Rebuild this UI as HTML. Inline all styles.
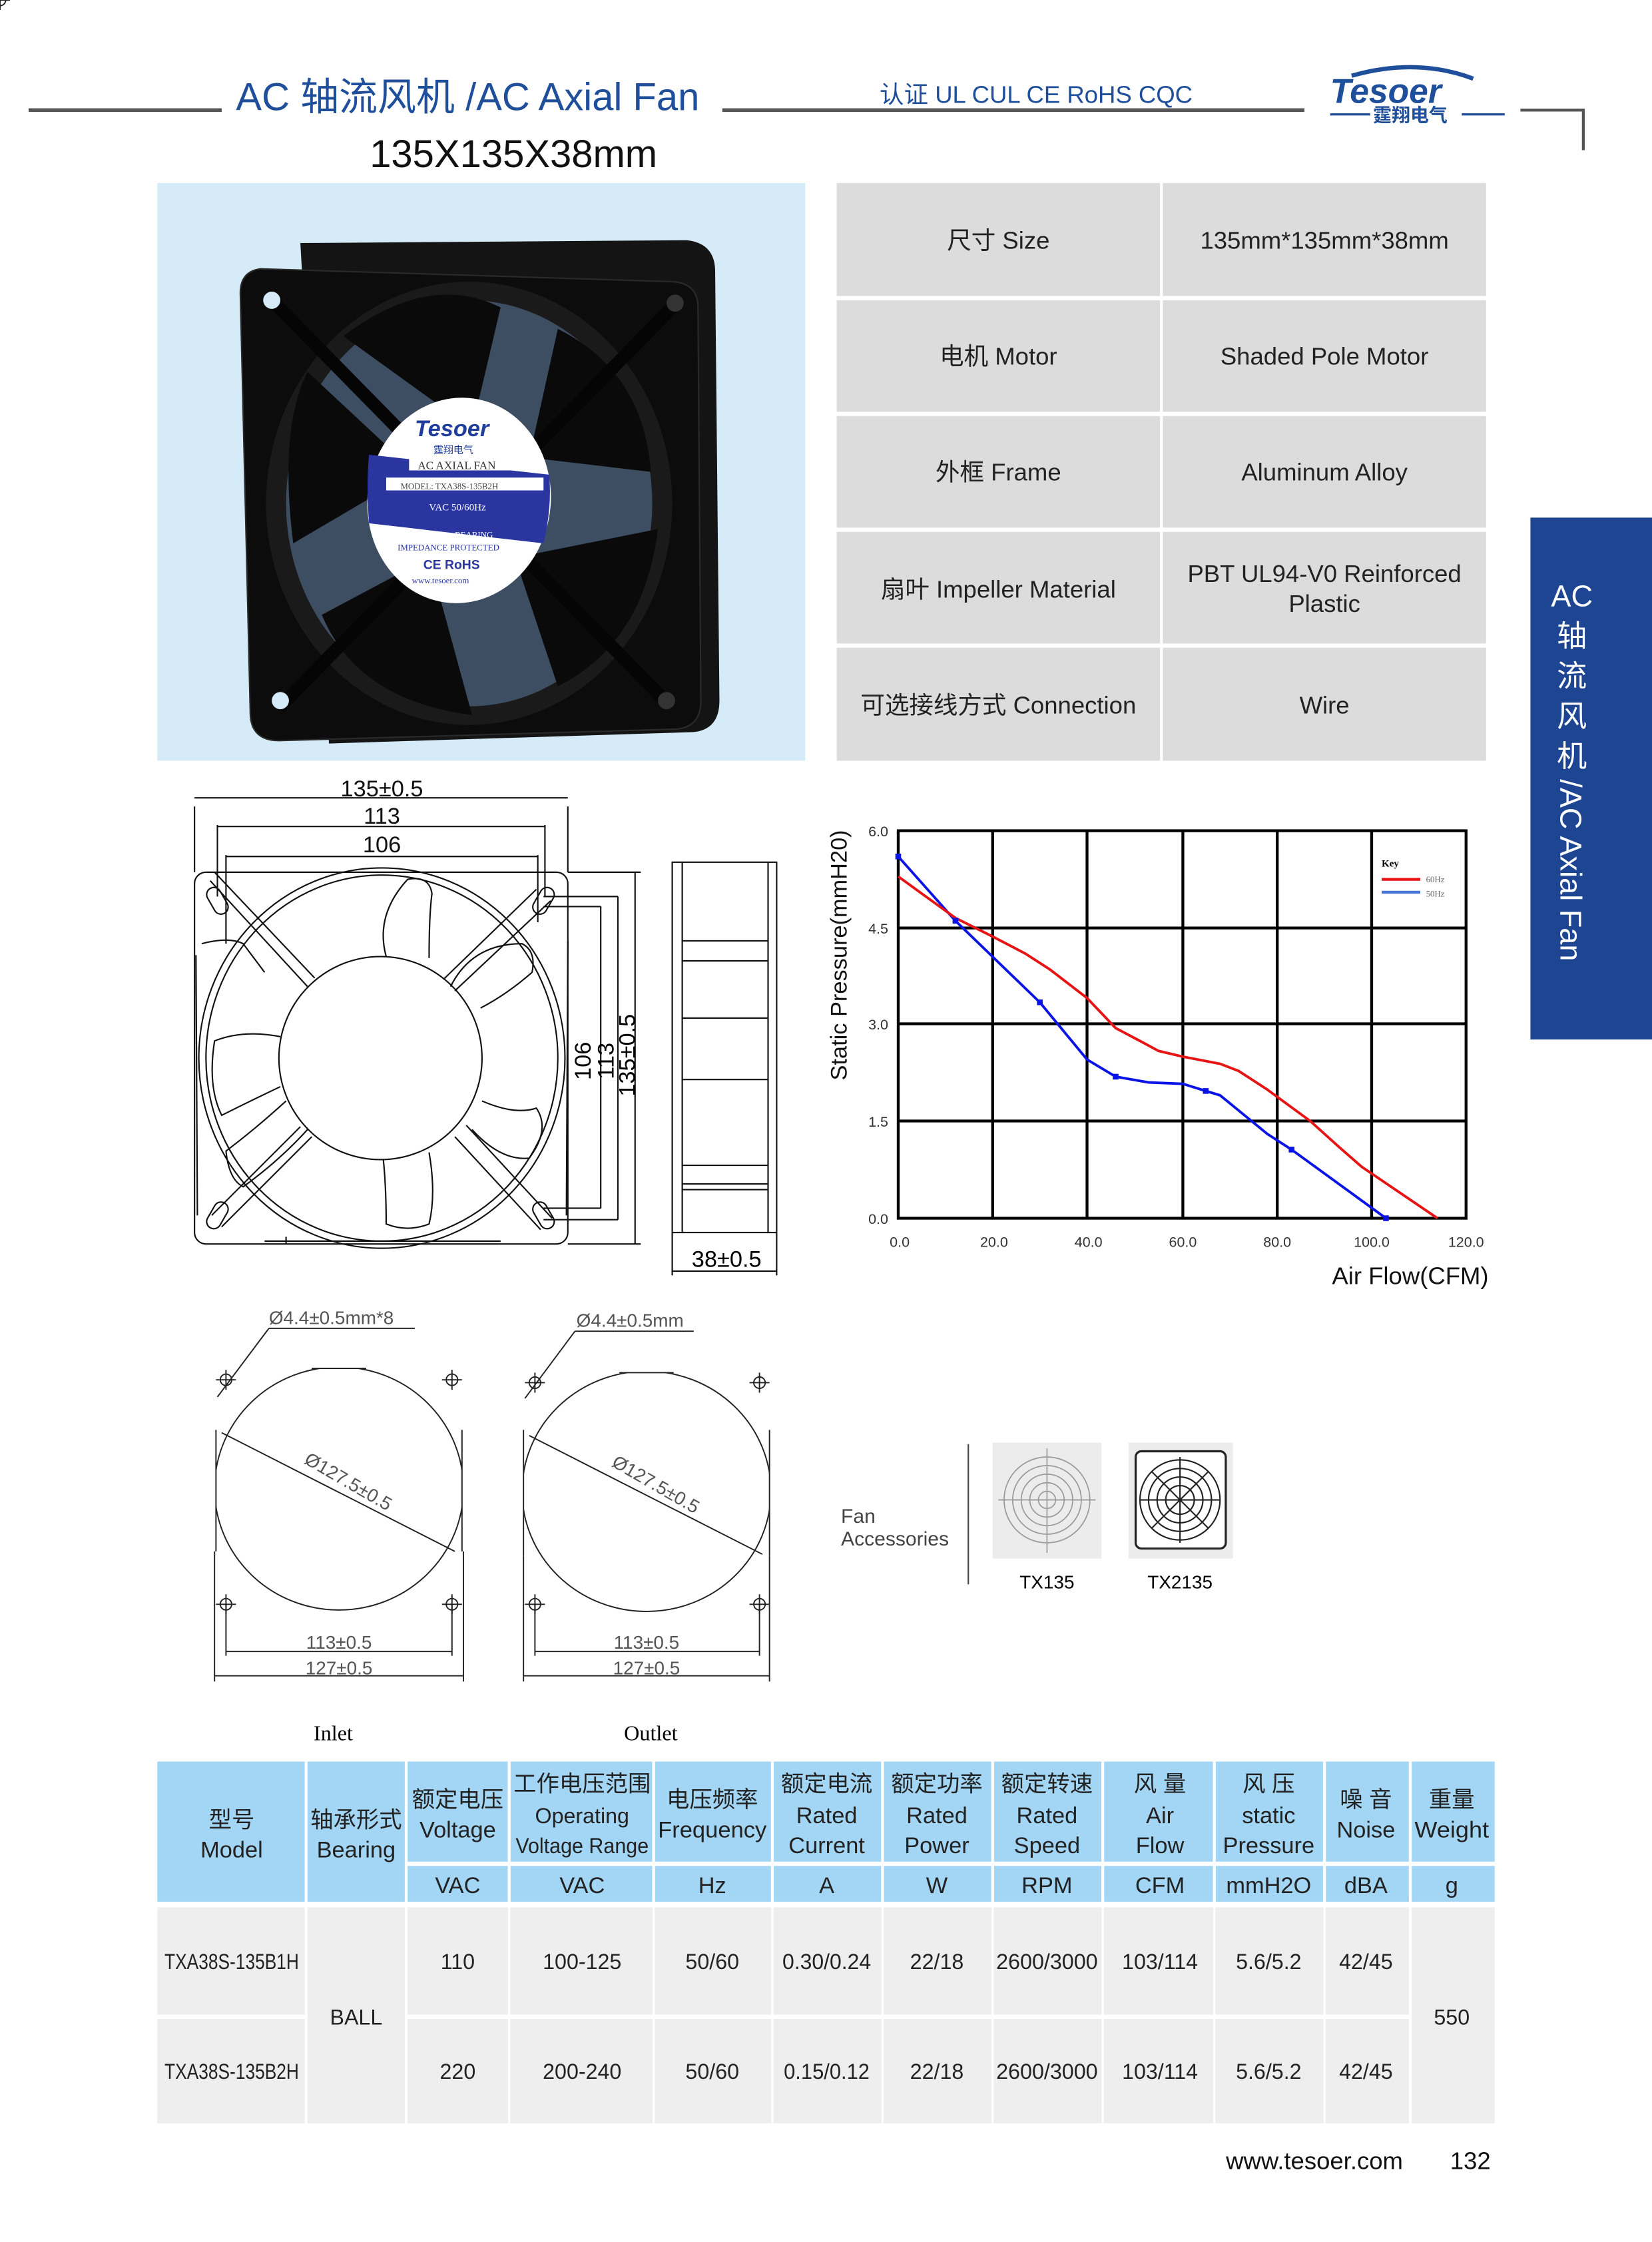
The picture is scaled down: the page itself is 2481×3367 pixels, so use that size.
<!DOCTYPE html>
<html><head><meta charset="utf-8"><style>
html,body{margin:0;padding:0;background:#fff}
svg{display:block}
text{font-family:"Liberation Sans","Noto Sans CJK SC",sans-serif}
.s{font-family:"Liberation Serif","Noto Serif CJK SC",serif}
</style></head><body>
<svg width="2481" height="3367" viewBox="0 0 1155 1568" preserveAspectRatio="none" xmlns="http://www.w3.org/2000/svg">
<!-- header -->
<line x1="20" y1="77" x2="155" y2="77" stroke="#555" stroke-width="2.5"/>
<text x="165" y="77" font-size="27" fill="#1f4e9a">AC 轴流风机 /AC Axial Fan</text>
<line x1="505" y1="77" x2="912" y2="77" stroke="#555" stroke-width="2.5"/>
<text x="615" y="72" font-size="17" fill="#1f4e9a">认证 UL  CUL  CE  RoHS  CQC</text>
<text x="930" y="72" font-size="24" font-weight="bold" font-style="italic" fill="#1f4e9a">Tesoer</text>
<path d="M945 53 Q 990 40 1030 55" stroke="#1f4e9a" stroke-width="3" fill="none"/>
<line x1="930" y1="80" x2="958" y2="80" stroke="#1f4e9a" stroke-width="1.5"/>
<text x="960" y="85" font-size="13" font-weight="bold" fill="#1f4e9a">霆翔电气</text>
<line x1="1022" y1="80" x2="1052" y2="80" stroke="#1f4e9a" stroke-width="1.5"/>
<polyline points="1063,77 1107,77 1107,105" fill="none" stroke="#555" stroke-width="2"/>
<text x="359" y="117" font-size="27" text-anchor="middle" fill="#111">135X135X38mm</text>

<!-- photo -->
<rect x="110" y="128" width="453" height="404" fill="#d6ebf8"/>
<path d="M210 170 L480 168 Q500 170 500 190 L503 490 Q503 510 485 512 L230 520 Z" fill="#141414"/>
<path d="M182 188 Q168 190 168 205 L175 500 Q176 518 195 518 L470 510 Q490 510 490 490 L488 215 Q488 198 470 197 Z" fill="#0c0c0c" stroke="#2a2a2a" stroke-width="1"/>
<ellipse cx="328" cy="352" rx="142" ry="155" fill="#1a1a1a"/>
<ellipse cx="328" cy="352" rx="128" ry="142" fill="#3e4e62"/>
<g fill="#0a0a0a">
<path d="M240 235 Q300 190 350 215 L330 300 Z"/>
<path d="M390 230 Q450 260 455 330 L370 320 Z"/>
<path d="M460 370 Q450 450 390 480 L360 390 Z"/>
<path d="M330 500 Q250 490 225 430 L300 390 Z"/>
<path d="M205 380 Q195 300 215 260 L290 330 Z"/>
</g>
<g stroke="#050505" stroke-width="9">
<line x1="190" y1="210" x2="465" y2="490"/>
<line x1="470" y1="215" x2="195" y2="495"/>
</g>
<circle cx="190" cy="210" r="6" fill="#d6ebf8"/><circle cx="196" cy="490" r="6" fill="#d6ebf8"/>
<circle cx="472" cy="212" r="6" fill="#333"/><circle cx="466" cy="490" r="6" fill="#333"/>
<ellipse cx="321" cy="350" rx="64" ry="72" fill="#fff" transform="rotate(8 321 350)"/>
<path d="M258 318 L384 332 Q386 355 380 380 L258 366 Q256 340 258 318Z" fill="#2a35a0"/>
<text x="290" y="305" font-size="16" font-weight="bold" font-style="italic" fill="#1f3d9a">Tesoer</text>
<text x="303" y="317" font-size="7" fill="#1f3d9a">霆翔电气</text>
<rect x="286" y="320" width="80" height="9" fill="#fff"/>
<text x="292" y="328" font-size="8" class="s" fill="#333">AC AXIAL FAN</text>
<rect x="270" y="334" width="110" height="9" fill="#fff"/>
<text x="280" y="342" font-size="6" class="s" fill="#444">MODEL: TXA38S-135B2H</text>
<text x="300" y="357" font-size="7" class="s" fill="#fff">VAC 50/60Hz</text>
<text x="318" y="376" font-size="6" class="s" fill="#fff">BEARING</text>
<text x="278" y="385" font-size="6" class="s" fill="#2a35a0">IMPEDANCE PROTECTED</text>
<text x="296" y="398" font-size="9" font-weight="bold" fill="#2a35a0">CE  RoHS</text>
<text x="288" y="408" font-size="6" class="s" fill="#2a35a0">www.tesoer.com</text>

<!-- spec table -->
<g fill="#dcdcdc">
<rect x="585" y="128" width="226" height="79"/><rect x="813" y="128" width="226" height="79"/>
<rect x="585" y="210" width="226" height="78"/><rect x="813" y="210" width="226" height="78"/>
<rect x="585" y="291" width="226" height="78"/><rect x="813" y="291" width="226" height="78"/>
<rect x="585" y="372" width="226" height="78"/><rect x="813" y="372" width="226" height="78"/>
<rect x="585" y="453" width="226" height="79"/><rect x="813" y="453" width="226" height="79"/>
</g>
<g font-size="17" fill="#222" text-anchor="middle">
<text x="698" y="174">尺寸 Size</text><text x="926" y="174">135mm*135mm*38mm</text>
<text x="698" y="255">电机 Motor</text><text x="926" y="255">Shaded Pole  Motor</text>
<text x="698" y="336">外框 Frame</text><text x="926" y="336">Aluminum Alloy</text>
<text x="698" y="418">扇叶 Impeller  Material</text><text x="926" y="407">PBT UL94-V0 Reinforced</text><text x="926" y="428">Plastic</text>
<text x="698" y="499">可选接线方式 Connection</text><text x="926" y="499">Wire</text>
</g>

<!-- side tab -->
<rect x="1070" y="362" width="85" height="365" fill="#1d4591"/>
<g font-size="21" fill="#fff" text-anchor="middle">
<text x="1099" y="424">AC</text><text x="1099" y="452">轴</text><text x="1099" y="480">流</text><text x="1099" y="508">风</text><text x="1099" y="536">机</text>
</g>
<text transform="translate(1091 545) rotate(90)" font-size="21" fill="#fff">/AC Axial Fan</text>

<!-- technical drawing front -->
<g fill="none" stroke="#111" stroke-width="1">
<rect x="136" y="610" width="261" height="260" rx="8"/>
<line x1="136" y1="564" x2="136" y2="610"/><line x1="397" y1="564" x2="397" y2="610"/>
<line x1="136" y1="558" x2="397" y2="558"/>
<line x1="152" y1="577" x2="152" y2="627"/><line x1="381" y1="577" x2="381" y2="627"/>
<line x1="152" y1="578" x2="381" y2="578"/>
<line x1="158" y1="598" x2="158" y2="660"/><line x1="376" y1="598" x2="376" y2="645"/>
<line x1="158" y1="599" x2="376" y2="599"/>
<ellipse cx="267" cy="740" rx="128" ry="133"/>
<ellipse cx="267" cy="740" rx="123" ry="128"/>
<ellipse cx="266" cy="740" rx="71" ry="71"/>
<line x1="147" y1="616" x2="215" y2="690"/><line x1="150" y1="610" x2="220" y2="684"/>
<line x1="375" y1="622" x2="310" y2="685"/><line x1="385" y1="630" x2="318" y2="693"/>
<line x1="155" y1="858" x2="218" y2="795"/><line x1="148" y1="850" x2="210" y2="788"/>
<line x1="378" y1="860" x2="318" y2="795"/><line x1="386" y1="852" x2="326" y2="787"/>
<rect x="147" y="620" width="10" height="20" rx="5" transform="rotate(-30 152 630)"/>
<rect x="375" y="620" width="10" height="20" rx="5" transform="rotate(30 380 630)"/>
<rect x="147" y="840" width="10" height="20" rx="5" transform="rotate(30 152 850)"/>
<rect x="375" y="840" width="10" height="20" rx="5" transform="rotate(-30 380 850)"/>
<path d="M137 668 L138 850 M397 658 L396 850 M200 865 L200 870 M185 868 L350 868"/>
<path d="M270 669 Q262 640 285 615 Q300 612 302 625 Q300 640 300 670"/>
<path d="M315 690 Q330 660 365 660 Q375 665 372 680 Q355 695 336 705"/>
<path d="M337 770 Q360 780 375 775 Q385 790 370 810 Q350 812 330 790"/>
<path d="M300 806 Q305 835 300 856 Q285 862 270 856 Q270 830 268 811"/>
<path d="M215 790 Q195 812 170 830 Q160 825 158 805 Q178 790 200 770"/>
<path d="M196 725 Q170 720 150 728 Q145 760 155 780 Q175 770 196 760"/>
<path d="M141 660 Q160 655 170 660 L185 680"/>
</g>
<g font-size="16" fill="#111" text-anchor="middle">
<text x="267" y="557">135±0.5</text><text x="267" y="576">113</text><text x="267" y="596">106</text>
</g>
<g stroke="#111" stroke-width="1" fill="none">
<line x1="397" y1="610" x2="448" y2="610"/><line x1="397" y1="870" x2="448" y2="870"/>
<line x1="444" y1="610" x2="444" y2="870"/>
<line x1="380" y1="627" x2="432" y2="627"/><line x1="380" y1="853" x2="432" y2="853"/>
<line x1="432" y1="627" x2="432" y2="853"/>
<line x1="380" y1="634" x2="420" y2="634"/><line x1="380" y1="845" x2="420" y2="845"/>
<line x1="420" y1="634" x2="420" y2="845"/>
</g>
<text transform="translate(413 742) rotate(-90)" font-size="16" text-anchor="middle">106</text>
<text transform="translate(429 742) rotate(-90)" font-size="16" text-anchor="middle">113</text>
<text transform="translate(444 738) rotate(-90)" font-size="16" text-anchor="middle">135±0.5</text>
<!-- side view -->
<g fill="none" stroke="#111" stroke-width="1">
<rect x="470" y="603" width="73" height="259"/>
<line x1="477" y1="603" x2="477" y2="862"/><line x1="537" y1="603" x2="537" y2="862"/>
<line x1="477" y1="658" x2="537" y2="658"/><line x1="477" y1="672" x2="537" y2="672"/>
<line x1="477" y1="712" x2="537" y2="712"/><line x1="477" y1="755" x2="537" y2="755"/>
<line x1="477" y1="815" x2="537" y2="815"/><line x1="477" y1="828" x2="537" y2="828"/><line x1="477" y1="832" x2="537" y2="832"/>
<line x1="470" y1="862" x2="470" y2="892"/><line x1="543" y1="862" x2="543" y2="892"/>
<line x1="470" y1="889" x2="543" y2="889"/>
</g>
<text x="508" y="886" font-size="16" text-anchor="middle">38±0.5</text>

<!-- chart -->
<g stroke="#000" stroke-width="2" fill="none">
<rect x="628" y="581" width="397" height="271"/>
<line x1="694" y1="581" x2="694" y2="852"/><line x1="760" y1="581" x2="760" y2="852"/>
<line x1="827" y1="581" x2="827" y2="852"/><line x1="893" y1="581" x2="893" y2="852"/>
<line x1="959" y1="581" x2="959" y2="852"/>
<line x1="628" y1="649" x2="1025" y2="649"/><line x1="628" y1="716" x2="1025" y2="716"/>
<line x1="628" y1="784" x2="1025" y2="784"/>
</g>
<polyline fill="none" stroke="#0a14e6" stroke-width="1.8" points="628,599 668,644 727,701 760,741 780,753 803,757 827,758 843,763 853,766 886,793 903,804 969,852"/>
<polyline fill="none" stroke="#e61414" stroke-width="1.8" points="628,613 668,642 694,655 717,667 734,678 760,698 780,719 797,728 810,735 827,739 853,744 866,749 886,762 916,784 936,802 952,816 1005,852"/>
<g fill="#0a14e6"><rect x="626" y="597" width="4" height="4"/><rect x="666" y="642" width="4" height="4"/><rect x="725" y="699" width="4" height="4"/><rect x="778" y="751" width="4" height="4"/><rect x="841" y="761" width="4" height="4"/><rect x="901" y="802" width="4" height="4"/><rect x="967" y="850" width="4" height="4"/></g>
<g class="s" font-size="10" fill="#333" text-anchor="end">
<text x="621" y="585">6.0</text><text x="621" y="653">4.5</text><text x="621" y="720">3.0</text><text x="621" y="788">1.5</text><text x="621" y="856">0.0</text>
</g>
<g class="s" font-size="10" fill="#333" text-anchor="middle">
<text x="629" y="872">0.0</text><text x="695" y="872">20.0</text><text x="761" y="872">40.0</text><text x="827" y="872">60.0</text><text x="893" y="872">80.0</text><text x="959" y="872">100.0</text><text x="1025" y="872">120.0</text>
</g>
<text transform="translate(592 668) rotate(-90)" font-size="16" text-anchor="middle" fill="#111">Static Pressure(mmH20)</text>
<text x="986" y="898" font-size="17" text-anchor="middle" fill="#111">Air Flow(CFM)</text>
<text x="966" y="606" font-size="7" class="s" font-weight="bold">Key</text>
<line x1="966" y1="615" x2="993" y2="615" stroke="#e61414" stroke-width="2"/>
<line x1="966" y1="624" x2="993" y2="624" stroke="#4a78d8" stroke-width="2"/>
<text x="997" y="617" font-size="6" class="s" fill="#666">60Hz</text>
<text x="997" y="627" font-size="6" class="s" fill="#666">50Hz</text>

<!-- mounting drawings -->
<defs>
<clipPath id="c1"><rect x="151" y="957" width="172" height="170"/></clipPath>
<clipPath id="c2"><rect x="366" y="960" width="172" height="170"/></clipPath>
</defs>
<g fill="none" stroke="#222" stroke-width="0.9">
<ellipse cx="237" cy="1041" rx="87" ry="85" clip-path="url(#c1)"/>
<line x1="151" y1="1000" x2="151" y2="1085"/><line x1="323" y1="1000" x2="323" y2="1085"/>
<line x1="218" y1="957" x2="256" y2="957"/>
<line x1="155" y1="1002" x2="318" y2="1085"/>
<line x1="152" y1="977" x2="188" y2="929"/><line x1="188" y1="929" x2="290" y2="929"/>
<line x1="158" y1="1122" x2="158" y2="1158"/><line x1="316" y1="1122" x2="316" y2="1158"/>
<line x1="158" y1="1155" x2="316" y2="1155"/>
<line x1="150" y1="1085" x2="150" y2="1176"/><line x1="324" y1="1085" x2="324" y2="1176"/>
<line x1="150" y1="1172" x2="324" y2="1172"/>
<ellipse cx="452" cy="1043" rx="87" ry="84" clip-path="url(#c2)"/>
<line x1="366" y1="1000" x2="366" y2="1088"/><line x1="538" y1="1000" x2="538" y2="1088"/>
<line x1="433" y1="960" x2="471" y2="960"/>
<line x1="370" y1="1004" x2="533" y2="1087"/>
<line x1="367" y1="978" x2="402" y2="931"/><line x1="402" y1="931" x2="485" y2="931"/>
<line x1="374" y1="1122" x2="374" y2="1158"/><line x1="531" y1="1122" x2="531" y2="1158"/>
<line x1="374" y1="1155" x2="531" y2="1155"/>
<line x1="366" y1="1088" x2="366" y2="1176"/><line x1="538" y1="1088" x2="538" y2="1176"/>
<line x1="366" y1="1172" x2="538" y2="1172"/>
</g>
<g stroke="#222" stroke-width="0.9" fill="none">
<g id="ch"><circle r="4"/><line x1="-7" y1="0" x2="7" y2="0"/><line x1="0" y1="-7" x2="0" y2="7"/></g>
</g>
<g stroke="#222" stroke-width="0.9" fill="none">
<use href="#ch" x="158" y="965"/><use href="#ch" x="316" y="965"/><use href="#ch" x="158" y="1122"/><use href="#ch" x="316" y="1122"/>
<use href="#ch" x="374" y="967"/><use href="#ch" x="531" y="967"/><use href="#ch" x="374" y="1122"/><use href="#ch" x="531" y="1122"/>
</g>
<g font-size="13" fill="#555">
<text x="188" y="926">Ø4.4±0.5mm*8</text>
<text x="403" y="928">Ø4.4±0.5mm</text>
<text transform="translate(212 1023) rotate(30)">Ø127.5±0.5</text>
<text transform="translate(427 1025) rotate(30)">Ø127.5±0.5</text>
<text x="237" y="1153" text-anchor="middle">113±0.5</text><text x="237" y="1171" text-anchor="middle">127±0.5</text>
<text x="452" y="1153" text-anchor="middle">113±0.5</text><text x="452" y="1171" text-anchor="middle">127±0.5</text>
</g>
<text x="233" y="1217" font-size="15" class="s" text-anchor="middle">Inlet</text>
<text x="455" y="1217" font-size="15" class="s" text-anchor="middle">Outlet</text>

<!-- accessories -->
<text x="588" y="1065" font-size="14" fill="#444">Fan</text>
<text x="588" y="1081" font-size="14" fill="#444">Accessories</text>
<line x1="677" y1="1010" x2="677" y2="1108" stroke="#444" stroke-width="1"/>
<rect x="694" y="1009" width="76" height="81" fill="#ececec"/>
<g fill="none" stroke="#999" stroke-width="0.8">
<circle cx="732" cy="1049" r="30"/><circle cx="732" cy="1049" r="24"/><circle cx="732" cy="1049" r="18"/><circle cx="732" cy="1049" r="12"/><circle cx="732" cy="1049" r="6"/>
<line x1="698" y1="1049" x2="766" y2="1049"/><line x1="732" y1="1013" x2="732" y2="1086"/>
</g>
<rect x="789" y="1009" width="73" height="81" fill="#ececec"/>
<rect x="794" y="1015" width="63" height="68" rx="4" fill="#fff" stroke="#222" stroke-width="1.5"/>
<g fill="none" stroke="#222" stroke-width="1">
<circle cx="825" cy="1049" r="28"/><circle cx="825" cy="1049" r="22"/><circle cx="825" cy="1049" r="16"/><circle cx="825" cy="1049" r="10"/>
<line x1="797" y1="1049" x2="853" y2="1049"/><line x1="825" y1="1019" x2="825" y2="1079"/>
<line x1="805" y1="1029" x2="845" y2="1069"/><line x1="845" y1="1029" x2="805" y2="1069"/>
</g>
<text x="732" y="1111" font-size="13" text-anchor="middle">TX135</text>
<text x="825" y="1111" font-size="13" text-anchor="middle">TX2135</text>

<!-- bottom table -->
<g fill="#a3d6f4">
<rect x="110" y="1232" width="103" height="98"/><rect x="215" y="1232" width="68" height="98"/>
<rect x="285" y="1232" width="70" height="70"/><rect x="357" y="1232" width="99" height="70"/><rect x="458" y="1232" width="81" height="70"/><rect x="541" y="1232" width="75" height="70"/><rect x="618" y="1232" width="75" height="70"/><rect x="695" y="1232" width="75" height="70"/><rect x="772" y="1232" width="76" height="70"/><rect x="850" y="1232" width="75" height="70"/><rect x="927" y="1232" width="58" height="70"/><rect x="987" y="1232" width="58" height="70"/>
<rect x="285" y="1305" width="70" height="25"/><rect x="357" y="1305" width="99" height="25"/><rect x="458" y="1305" width="81" height="25"/><rect x="541" y="1305" width="75" height="25"/><rect x="618" y="1305" width="75" height="25"/><rect x="695" y="1305" width="75" height="25"/><rect x="772" y="1305" width="76" height="25"/><rect x="850" y="1305" width="75" height="25"/><rect x="927" y="1305" width="58" height="25"/><rect x="987" y="1305" width="58" height="25"/>
</g>
<g fill="#eeeeef">
<rect x="110" y="1334" width="103" height="75"/><rect x="110" y="1412" width="103" height="73"/>
<rect x="215" y="1334" width="68" height="151"/><rect x="987" y="1334" width="58" height="151"/>
<rect x="285" y="1334" width="700" height="75"/><rect x="285" y="1412" width="700" height="73"/>
</g>
<g stroke="#fff" stroke-width="1.5">
<line x1="356" y1="1334" x2="356" y2="1485"/><line x1="457" y1="1334" x2="457" y2="1485"/><line x1="540" y1="1334" x2="540" y2="1485"/><line x1="617" y1="1334" x2="617" y2="1485"/><line x1="694" y1="1334" x2="694" y2="1485"/><line x1="771" y1="1334" x2="771" y2="1485"/><line x1="849" y1="1334" x2="849" y2="1485"/><line x1="926" y1="1334" x2="926" y2="1485"/>
</g>
<g font-size="16" fill="#222" text-anchor="middle">
<text x="162" y="1278">型号</text><text x="162" y="1299">Model</text>
<text x="249" y="1278">轴承形式</text><text x="249" y="1299">Bearing</text>
<text x="320" y="1264">额定电压</text><text x="320" y="1285">Voltage</text>
<text x="407" y="1253">工作电压范围</text><text x="407" y="1275" font-size="15">Operating</text><text x="407" y="1296" font-size="15" textLength="93" lengthAdjust="spacingAndGlyphs">Voltage Range</text>
<text x="498" y="1264">电压频率</text><text x="498" y="1285" textLength="76" lengthAdjust="spacingAndGlyphs">Frequency</text>
<text x="578" y="1253">额定电流</text><text x="578" y="1275">Rated</text><text x="578" y="1296">Current</text>
<text x="655" y="1253">额定功率</text><text x="655" y="1275">Rated</text><text x="655" y="1296">Power</text>
<text x="732" y="1253">额定转速</text><text x="732" y="1275">Rated</text><text x="732" y="1296">Speed</text>
<text x="811" y="1253">风  量</text><text x="811" y="1275">Air</text><text x="811" y="1296">Flow</text>
<text x="887" y="1253">风  压</text><text x="887" y="1275">static</text><text x="887" y="1296">Pressure</text>
<text x="955" y="1264">噪 音</text><text x="955" y="1285">Noise</text>
<text x="1015" y="1264">重量</text><text x="1015" y="1285" textLength="52" lengthAdjust="spacingAndGlyphs">Weight</text>
<text x="320" y="1324">VAC</text><text x="407" y="1324">VAC</text><text x="498" y="1324">Hz</text><text x="578" y="1324">A</text><text x="655" y="1324">W</text><text x="732" y="1324">RPM</text><text x="811" y="1324">CFM</text><text x="887" y="1324">mmH2O</text><text x="955" y="1324">dBA</text><text x="1015" y="1324">g</text>
</g>
<g font-size="15" fill="#222" text-anchor="middle">
<text x="162" y="1377" textLength="94" lengthAdjust="spacingAndGlyphs">TXA38S-135B1H</text><text x="320" y="1377">110</text><text x="407" y="1377">100-125</text><text x="498" y="1377">50/60</text><text x="578" y="1377" textLength="62" lengthAdjust="spacingAndGlyphs">0.30/0.24</text><text x="655" y="1377">22/18</text><text x="732" y="1377" textLength="71" lengthAdjust="spacingAndGlyphs">2600/3000</text><text x="811" y="1377">103/114</text><text x="887" y="1377">5.6/5.2</text><text x="955" y="1377">42/45</text>
<text x="162" y="1454" textLength="94" lengthAdjust="spacingAndGlyphs">TXA38S-135B2H</text><text x="320" y="1454">220</text><text x="407" y="1454">200-240</text><text x="498" y="1454">50/60</text><text x="578" y="1454" textLength="60" lengthAdjust="spacingAndGlyphs">0.15/0.12</text><text x="655" y="1454">22/18</text><text x="732" y="1454" textLength="71" lengthAdjust="spacingAndGlyphs">2600/3000</text><text x="811" y="1454">103/114</text><text x="887" y="1454">5.6/5.2</text><text x="955" y="1454">42/45</text>
<text x="249" y="1416">BALL</text><text x="1015" y="1416">550</text>
</g>
<text x="919" y="1517" font-size="17" text-anchor="middle" fill="#111">www.tesoer.com</text>
<text x="1028" y="1517" font-size="17" text-anchor="middle" fill="#111">132</text>
</svg>
</body></html>
